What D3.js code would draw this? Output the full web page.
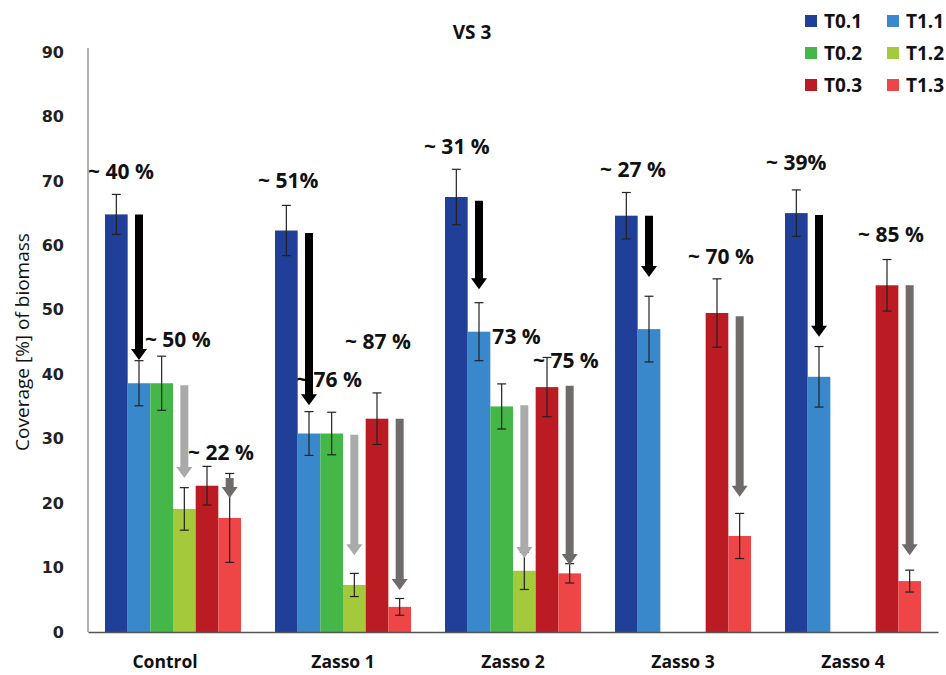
<!DOCTYPE html>
<html>
<head>
<meta charset="utf-8">
<script src="https://cdn.jsdelivr.net/npm/d3@7"></script>
<style>
  body { margin: 0; background: #fff; }
  svg { display: block; }
</style>
</head>
<body>
<svg id="chart" width="946" height="675"></svg>
<script>
// categories and series
const groups = ["Control", "Zasso 1", "Zasso 2", "Zasso 3", "Zasso 4"];
const series = ["T0.1", "T1.1", "T0.2", "T1.2", "T0.3", "T1.3"];
const colors = ["#1f3f99", "#3a88cc", "#44b748", "#a4c93a", "#bb1c23", "#ee4546"];
const yTicks = [0, 10, 20, 30, 40, 50, 60, 70, 80, 90];

// mean coverage per series (null = not measured)
const t01 = [64.8, 62.3, 67.5, 64.6, 65.0];
const t11 = [38.6, 30.8, 46.6, 47.0, 39.6];
const t02 = [38.6, 30.8, 35.0, null, null];
const t12 = [19.1, 7.3, 9.5, null, null];
const t03 = [22.7, 33.1, 38.0, 49.5, 53.8];
const t13 = [17.7, 3.9, 9.1, 14.9, 7.9];

// error (+/-)
const t01Err = [3.1, 3.9, 4.3, 3.6, 3.6];
const t11Err = [3.5, 3.4, 4.5, 5.1, 4.7];
const t02Err = [4.2, 3.3, 3.5, null, null];
const t12Err = [3.3, 1.8, 2.9, null, null];
const t03Err = [3.0, 4.0, 4.6, 5.3, 4.0];
const t13Err = [6.9, 1.3, 1.5, 3.5, 1.7];

// reduction arrows: group, slot in group, start value, tip value, colour
const arrowGroup = ["Control", "Control", "Control", "Zasso 1", "Zasso 1", "Zasso 1", "Zasso 2", "Zasso 2", "Zasso 2", "Zasso 3", "Zasso 3", "Zasso 4", "Zasso 4"];
const arrowSlot = ["T1.1", "T1.2", "T1.3", "T1.1", "T1.2", "T1.3", "T1.1", "T1.2", "T1.3", "T1.1", "T1.3", "T1.1", "T1.3"];
const arrowFrom = [64.8, 38.3, 23.9, 61.9, 30.6, 33.1, 66.9, 35.2, 38.2, 64.6, 49.0, 64.7, 53.8];
const arrowTo = [42.2, 23.9, 20.8, 35.2, 11.9, 6.5, 53.2, 11.5, 10.4, 55.1, 21.0, 45.8, 11.9];
const arrowColor = ["#000000", "#aaaaaa", "#6f6b6b", "#000000", "#aaaaaa", "#6f6b6b", "#000000", "#aaaaaa", "#6f6b6b", "#000000", "#6f6b6b", "#000000", "#6f6b6b"];

// percentage notes: text, group, slot offset (in bar widths), value
const notes = ["~ 40 %", "~ 50 %", "~ 22 %", "~ 51%", "~ 76 %", "~ 87 %", "~ 31 %", "~ 73 %", "~ 75 %", "~ 27 %", "~ 70 %", "~ 39%", "~ 85 %"];
const noteGroup = ["Control", "Control", "Control", "Zasso 1", "Zasso 1", "Zasso 1", "Zasso 2", "Zasso 2", "Zasso 2", "Zasso 3", "Zasso 3", "Zasso 4", "Zasso 4"];
const noteSlot = [-0.75, 1.76, 3.66, -0.75, 0.93, 3.09, -0.93, 1.32, 3.88, -0.66, 3.22, -0.84, 3.22];
const noteY = [71.4, 45.3, 27.9, 70.0, 39.1, 45.0, 75.3, 45.8, 42.1, 71.7, 58.2, 72.8, 61.6];

const values = [t01, t11, t02, t12, t03, t13];
const errors = [t01Err, t11Err, t02Err, t12Err, t03Err, t13Err];

const svg = d3.select("#chart");
const margin = {top: 52, right: 8, bottom: 43, left: 88};
const width = 946, height = 675;

const x0 = d3.scaleBand()
    .domain(groups)
    .range([margin.left, width - margin.right])
    .paddingInner(0.2)
    .paddingOuter(0.1);
const x1 = d3.scaleBand()
    .domain(series)
    .range([0, x0.bandwidth()]);
const y = d3.scaleLinear()
    .domain([0, 90])
    .range([height - margin.bottom, margin.top]);

// flatten into rows for drawing
let rows = [];
series.forEach((s, si) => {
    groups.forEach((g, gi) => {
        if (values[si][gi] != null) {
            rows.push({group: g, series: s, value: values[si][gi], err: errors[si][gi], color: colors[si]});
        }
    });
});

// annotations (drawn first, arrows sit on top)
svg.append("g").selectAll("text")
    .data(notes)
    .enter().append("text")
    .attr("x", (d, i) => x0(noteGroup[i]) + noteSlot[i] * x1.bandwidth())
    .attr("y", (d, i) => y(noteY[i]))
    .attr("dy", "0.35em")
    .style("font-family", "'Open Sans', sans-serif")
    .style("font-weight", "bold")
    .style("font-size", "21px")
    .attr("fill", "#111")
    .text(d => d);

// bars
svg.append("g").selectAll("rect")
    .data(rows)
    .enter().append("rect")
    .attr("x", d => x0(d.group) + x1(d.series))
    .attr("y", d => y(d.value))
    .attr("width", x1.bandwidth())
    .attr("height", d => y(0) - y(d.value))
    .attr("fill", d => d.color);

// error bars
const eb = svg.append("g")
    .attr("stroke", "#222")
    .attr("stroke-width", 1.2);
rows.forEach(d => {
    const cx = x0(d.group) + x1(d.series) + x1.bandwidth() / 2;
    eb.append("line")
        .attr("x1", cx).attr("x2", cx)
        .attr("y1", y(d.value + d.err)).attr("y2", y(d.value - d.err));
    [d.value + d.err, d.value - d.err].forEach(v => {
        eb.append("line")
            .attr("x1", cx - 4.5).attr("x2", cx + 4.5)
            .attr("y1", y(v)).attr("y2", y(v));
    });
});

// arrows
const shaft = 8, headW = 16, headL = 11;
arrowGroup.forEach((g, i) => {
    const cx = x0(g) + x1(arrowSlot[i]) + x1.bandwidth() / 2;
    const top = y(arrowFrom[i]), tip = y(arrowTo[i]);
    const neck = tip - headL;
    const path = d3.path();
    path.moveTo(cx - shaft / 2, top);
    path.lineTo(cx + shaft / 2, top);
    path.lineTo(cx + shaft / 2, neck);
    path.lineTo(cx + headW / 2, neck);
    path.lineTo(cx, tip);
    path.lineTo(cx - headW / 2, neck);
    path.lineTo(cx - shaft / 2, neck);
    path.closePath();
    svg.append("path")
        .attr("d", path.toString())
        .attr("fill", arrowColor[i]);
});

// axes
const yAxis = d3.axisLeft(y).tickValues(yTicks).tickSize(0).tickPadding(24);
const yG = svg.append("g")
    .attr("transform", `translate(${margin.left},0)`)
    .call(yAxis);
yG.select(".domain").attr("stroke", "#8a8a8a").attr("stroke-width", 1.3)
    .attr("d", `M0,${y(90) - 4}V${y(0)}`);
yG.selectAll("text")
    .style("font-family", "'DejaVu Sans', sans-serif")
    .style("font-weight", "bold")
    .style("font-size", "16px")
    .attr("fill", "#222");

const xAxis = d3.axisBottom(x0).tickSize(0).tickPadding(24);
const xG = svg.append("g")
    .attr("transform", `translate(0,${y(0)})`)
    .call(xAxis);
xG.select(".domain").attr("stroke", "#555").attr("stroke-width", 1.3);
xG.selectAll("text")
    .style("font-family", "'Open Sans', sans-serif")
    .style("font-weight", "bold")
    .style("font-size", "17.5px")
    .attr("fill", "#111")
    .attr("dx", d => d === "Control" ? -8 : 0);

// y axis title
svg.append("text")
    .attr("transform", `translate(22,${(y(0) + y(90)) / 2}) rotate(-90)`)
    .attr("text-anchor", "middle")
    .attr("dy", "0.35em")
    .style("font-family", "'Open Sans', sans-serif")
    .style("font-size", "19px")
    .attr("fill", "#111")
    .text("Coverage [%] of biomass");

// title
svg.append("text")
    .attr("x", 472)
    .attr("y", 32)
    .attr("text-anchor", "middle")
    .attr("dy", "0.35em")
    .style("font-family", "'Open Sans', sans-serif")
    .style("font-weight", "bold")
    .style("font-size", "19px")
    .attr("fill", "#111")
    .text("VS 3");

// legend, two columns x three rows
const legend = svg.append("g");
series.forEach((s, i) => {
    const col = i % 2, row = Math.floor(i / 2);
    const lg = legend.append("g")
        .attr("transform", `translate(${805 + col * 82},${21 + row * 32})`);
    lg.append("rect")
        .attr("x", 0).attr("y", -6)
        .attr("width", 12).attr("height", 12)
        .attr("fill", colors[i]);
    lg.append("text")
        .attr("x", 19).attr("y", 0)
        .attr("dy", "0.35em")
        .style("font-family", "'Open Sans', sans-serif")
        .style("font-weight", "bold")
        .style("font-size", "19px")
        .attr("fill", "#111")
        .text(s);
});
</script>
</body>
</html>
